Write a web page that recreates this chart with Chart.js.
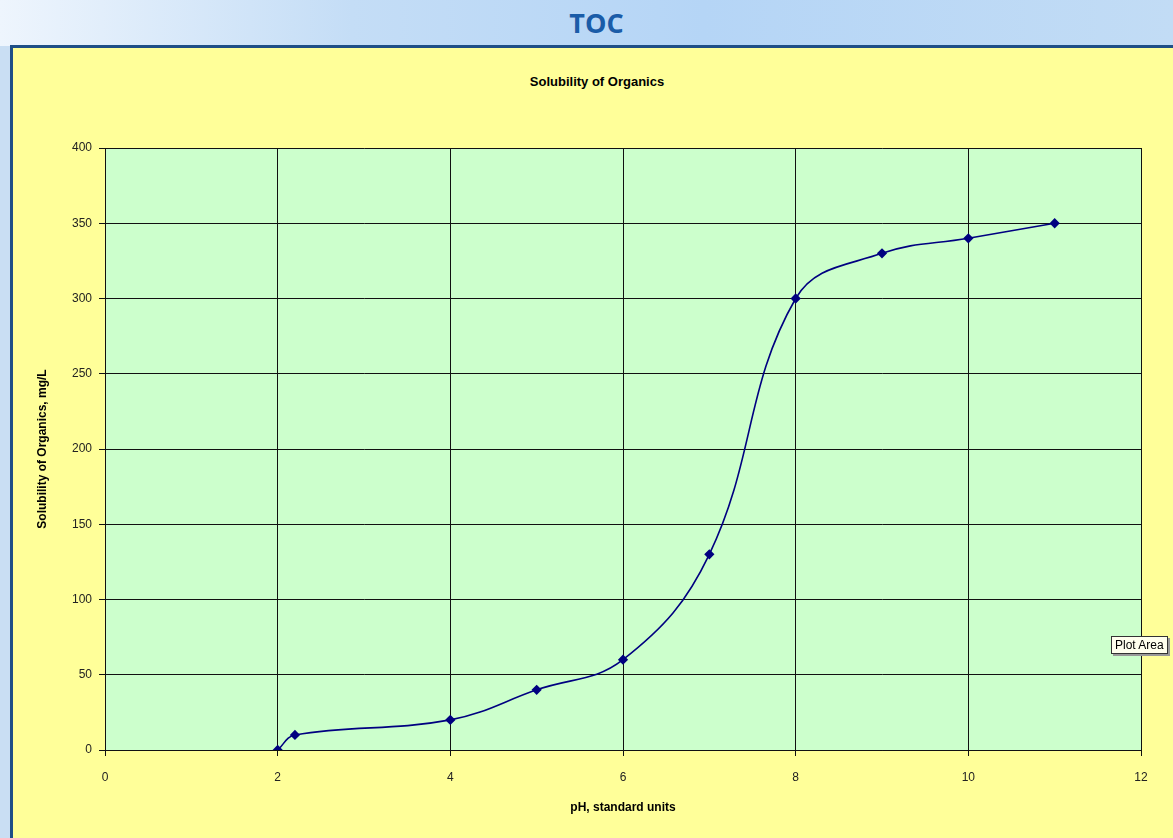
<!DOCTYPE html>
<html lang="en">
<head>
    <meta charset="UTF-8">
    <title>TOC - Solubility of Organics</title>
    <script src="https://cdn.jsdelivr.net/npm/chart.js"></script>
    <style>
        html, body {
            margin: 0;
            padding: 0;
            width: 1173px;
            height: 838px;
            overflow: hidden;
            background: #c9def3;
        }
        .banner {
            position: absolute;
            left: 0; top: 0;
            width: 1173px; height: 46px;
            background: linear-gradient(to right, #eef5fd 0%, #c4ddf6 30%, #b5d5f6 60%, #c2dcf5 100%);
            text-align: center;
        }
        .banner span {
            display: inline-block;
            margin-top: 4px;
            margin-left: 20px;
            font-family: "Liberation Sans Narrow", "Open Sans", sans-serif;
            font-weight: bold;
            font-size: 27px;
            color: #1a5ca8;
        }
        .chart-box {
            position: absolute;
            left: 10px; top: 45px;
            width: 1170px; height: 800px;
            border: 3px solid #1f4f86;
            background-color: #ffff99;
        }
        .chart-box canvas {
            position: absolute;
            left: 0; top: 0;
        }
        .chart-title {
            position: absolute;
            left: 0; top: 26px;
            width: 1168px;
            text-align: center;
            font-family: "Liberation Sans", Arial, sans-serif;
            font-weight: bold;
            font-size: 13px;
            color: #000;
        }
        .tip {
            position: absolute;
            left: 1111px; top: 636px;
            padding: 1px 3px;
            background: #ffffee;
            border: 1px solid #333;
            box-shadow: 2px 2px 0 #999;
            font-family: "Liberation Sans", Arial, sans-serif;
            font-size: 12px;
            white-space: nowrap;
            color: #000;
        }
    </style>
</head>
<body>
    <div class="banner"><span>TOC</span></div>
    <div class="chart-box">
        <div class="chart-title">Solubility of Organics</div>
        <canvas id="myChart" width="1160" height="790" style="width:1160px;height:790px;"></canvas>
    </div>
    <div class="tip">Plot Area</div>

    <script>
        // data
        const phValues = [2, 2.2, 4, 5, 6, 7, 8, 9, 10, 11];
        const solubility = [0, 10, 20, 40, 60, 130, 300, 330, 340, 350];
        const xTicks = [0, 2, 4, 6, 8, 10, 12];
        const yTicks = [0, 50, 100, 150, 200, 250, 300, 350, 400];

        const points = phValues.map((x, i) => ({ x: x, y: solubility[i] }));

        // green plot area background
        const plotBg = {
            id: 'plotBg',
            beforeDraw(chart) {
                const a = chart.chartArea;
                const ctx = chart.ctx;
                ctx.save();
                ctx.fillStyle = '#ccffcc';
                ctx.fillRect(a.left, a.top, a.right - a.left, a.bottom - a.top);
                ctx.restore();
            }
        };

        const tickFont = { family: 'Liberation Sans, Arial, sans-serif', size: 12 };
        const titleFont = { family: 'Liberation Sans, Arial, sans-serif', size: 12, weight: 'bold' };

        var ctx = document.getElementById('myChart').getContext('2d');
        var myChart = new Chart(ctx, {
            type: 'scatter',
            data: {
                datasets: [{
                    data: points,
                    showLine: true,
                    borderColor: '#000080',
                    backgroundColor: '#000080',
                    borderWidth: 1.6,
                    tension: 0.4,
                    pointStyle: 'rectRot',
                    pointRadius: 4,
                    pointHoverRadius: 4
                }]
            },
            plugins: [plotBg],
            options: {
                responsive: false,
                animation: false,
                events: [],
                layout: {
                    padding: { left: 0, right: 32, top: 100, bottom: 0 }
                },
                plugins: {
                    legend: { display: false },
                    tooltip: { enabled: false },
                    title: { display: false }
                },
                scales: {
                    x: {
                        type: 'linear',
                        min: 0,
                        max: 12,
                        afterBuildTicks: (scale) => { scale.ticks = xTicks.map(v => ({ value: v })); },
                        afterFit: (scale) => { scale.height = 88; },
                        grid: {
                            color: '#111',
                            lineWidth: 1,
                            tickColor: '#111',
                            tickLength: 6
                        },
                        border: { color: '#111', width: 1 },
                        ticks: { color: '#222', font: tickFont, padding: 14, maxRotation: 0 },
                        title: {
                            display: true,
                            text: 'pH, standard units',
                            color: '#000',
                            font: titleFont,
                            padding: { top: 0, bottom: 23 }
                        }
                    },
                    y: {
                        type: 'linear',
                        min: 0,
                        max: 400,
                        afterBuildTicks: (scale) => { scale.ticks = yTicks.map(v => ({ value: v })); },
                        afterFit: (scale) => { scale.width = 92; },
                        grid: {
                            color: '#111',
                            lineWidth: 1,
                            tickColor: '#111',
                            tickLength: 6
                        },
                        border: { color: '#111', width: 1 },
                        ticks: { color: '#222', font: tickFont, padding: 7 },
                        title: {
                            display: true,
                            text: 'Solubility of Organics, mg/L',
                            color: '#000',
                            font: titleFont,
                            padding: { top: 22, bottom: 0 }
                        }
                    }
                }
            }
        });
    </script>
</body>
</html>
